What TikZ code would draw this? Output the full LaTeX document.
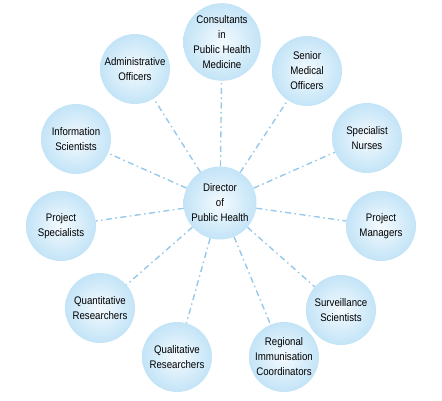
\documentclass[tikz,border=0pt]{standalone}
\usepackage{fontspec}
\setmainfont{Liberation Sans}[FakeStretch=0.88]
\definecolor{circin}{RGB}{244,250,254}
\definecolor{circout}{RGB}{195,228,247}
\definecolor{linkc}{RGB}{150,200,235}
\begin{document}
\begin{tikzpicture}[x=1pt,y=-1pt,
  bub/.style={circle,minimum size=70pt,inner sep=0pt,shading=radial,inner color=circin,outer color=circout,align=center,font=\fontsize{11}{15}\selectfont,text=black},
  link/.style={draw=linkc,line width=1.4pt,dash pattern=on 6pt off 3.5pt on 1.5pt off 3.5pt}]
\useasboundingbox (0,0) rectangle (442,400);
\node[bub,minimum size=73pt] (c) at (220,203) {Director\\of\\Public Health};
\node[bub] (n1) at (222,42) {Consultants\\in\\Public Health\\Medicine};
\node[bub] (n2) at (307,71) {Senior\\Medical\\Officers};
\node[bub] (n3) at (367,138) {Specialist\\Nurses};
\node[bub] (n4) at (381,226) {Project\\Managers};
\node[bub] (n5) at (341,310) {Surveillance\\Scientists};
\node[bub] (n6) at (284,357) {Regional\\Immunisation\\Coordinators};
\node[bub] (n7) at (177,357) {Qualitative\\Researchers};
\node[bub] (n8) at (100,308) {Quantitative\\Researchers};
\node[bub] (n9) at (61,226) {Project\\Specialists};
\node[bub] (n10) at (76,139) {Information\\Scientists};
\node[bub] (n11) at (135,69) {Administrative\\Officers};
\foreach \n in {n1,n2,n3,n4,n5,n6,n7,n8,n9,n10,n11}
  \draw[link] (c) -- (\n);
\end{tikzpicture}
\end{document}
